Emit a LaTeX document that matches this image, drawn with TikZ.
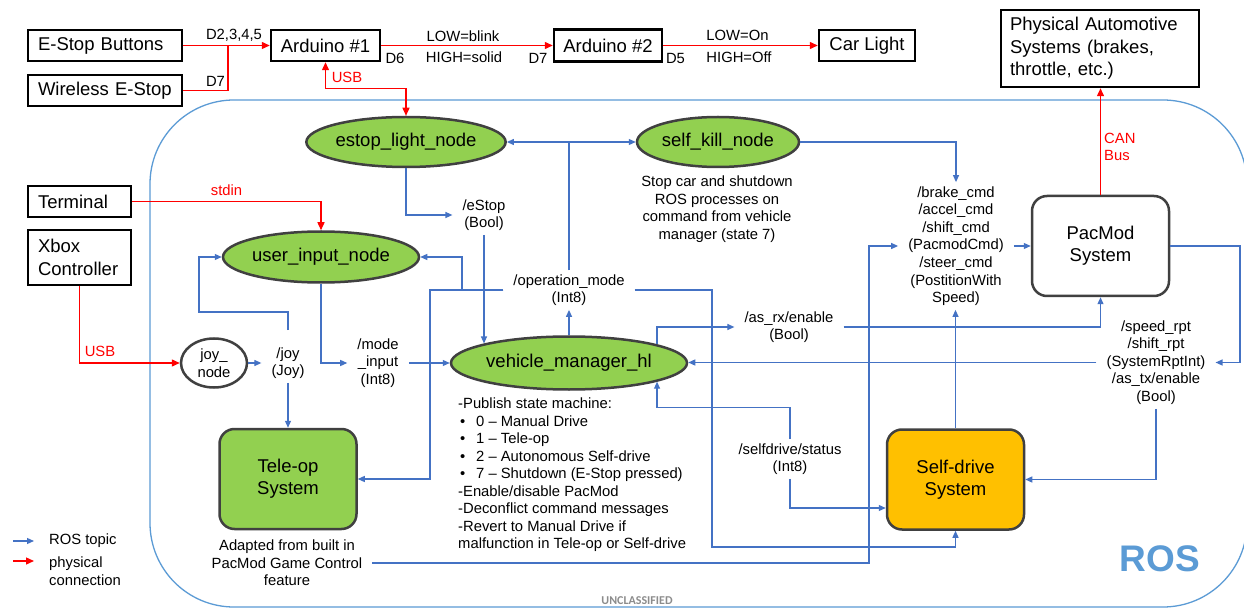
\documentclass[tikz,border=0pt]{standalone}
\usepackage{fontspec}
\setmainfont{Liberation Sans}
\newfontfamily\carlitofont{Carlito}
\usetikzlibrary{shapes.geometric,arrows.meta,calc}
\definecolor{topicblue}{RGB}{68,114,196}
\definecolor{rosblue}{RGB}{91,155,213}
\definecolor{nodegreen}{RGB}{146,208,80}
\definecolor{sdorange}{RGB}{255,192,0}
\definecolor{bordergray}{RGB}{64,64,64}
\definecolor{uncgray}{RGB}{140,140,140}
\newcommand\fsbig{\fontsize{18.5pt}{22.4pt}\selectfont}
\newcommand\fssm{\fontsize{14.8pt}{17.6pt}\selectfont}
\begin{document}
\begin{tikzpicture}[x=1pt,y=-1pt,
  box/.style={draw=black, line width=2.5pt, fill=white, font=\fsbig, inner sep=0pt},
  ellnode/.style={ellipse, draw=bordergray, line width=2.5pt, fill=nodegreen, font=\fsbig, inner sep=0pt},
  sysbox/.style={draw=bordergray, line width=2.5pt, rounded corners=15pt, font=\fsbig, align=center, inner sep=0pt, minimum width=137pt, minimum height=100pt},
  lbl/.style={font=\fssm, align=center, inner xsep=10pt, inner ysep=4pt},
  plain/.style={font=\fssm, inner sep=0pt},
  rlbl/.style={font=\fssm, text=red, inner sep=0pt},
  topic/.style={draw=topicblue, line width=1.2pt, -{Triangle[length=7pt,width=6pt]}},
  physarr/.style={draw=red, line width=1.4pt, -{Triangle[length=8pt,width=7pt]}},
  physline/.style={draw=red, line width=1.4pt},
  physboth/.style={draw=red, line width=1.4pt, {Triangle[length=8pt,width=7pt]}-{Triangle[length=8pt,width=7pt]}}
]
\useasboundingbox (0,0) rectangle (1244,609);
\fill[white] (0,0) rectangle (1244,609);

% ROS region
\draw[rosblue, line width=1.3pt, rounded corners=84pt] (150,100) rectangle (1247,607);
\node[font=\fontsize{37pt}{40pt}\selectfont\bfseries, text=rosblue, inner sep=0pt] (roslbl) at (1160,559) {ROS};
\node[font=\carlitofont\bfseries\fontsize{12pt}{14pt}\selectfont, text=uncgray, inner sep=0pt] (unc) at (637,601) {UNCLASSIFIED};

% outside boxes
\node[box, minimum width=154pt, minimum height=31pt, text width=142pt, align=left, inner xsep=6pt] (ebtn) at (105,45.5) {\hspace*{4pt}E-Stop Buttons};
\node[box, minimum width=154pt, minimum height=31pt, text width=142pt, align=left, inner xsep=6pt] (wless) at (105,90.5) {\hspace*{4pt}Wireless E-Stop};
\node[box, minimum width=109pt, minimum height=31pt] (ard1) at (325.5,45.5) {Arduino \#1};
\node[box, minimum width=108pt, minimum height=32pt] (ard2) at (608,45.5) {Arduino \#2};
\node[box, minimum width=96pt, minimum height=31pt] (car) at (867,45.5) {Car Light};
\node[box, minimum width=198pt, minimum height=77pt, text width=180pt, align=left, inner xsep=9pt] (autosys) at (1100,48.5) {Physical Automotive\\Systems (brakes,\\throttle, etc.)};
\node[box, minimum width=103pt, minimum height=31pt, text width=91pt, align=left, inner xsep=6pt] (term) at (79.5,201.5) {\hspace*{4pt}Terminal};
\node[box, minimum width=103pt, minimum height=55pt, text width=91pt, align=left, inner xsep=6pt] (xbox) at (79.5,257.5) {\hspace*{4pt}Xbox\\\hspace*{4pt}Controller};

% ROS nodes
\node[ellnode, minimum width=196pt, minimum height=50pt] (estop) at (406,142) {estop\_light\_node};
\node[ellnode, minimum width=162pt, minimum height=50pt] (skill) at (718,142) {self\_kill\_node};
\node[ellnode, minimum width=196pt, minimum height=51pt] (uin) at (321,257) {user\_input\_node};
\node[ellnode, minimum width=236pt, minimum height=53pt] (vm) at (569,363) {vehicle\_manager\_hl};
\node[ellipse, draw=bordergray, line width=2.5pt, fill=white, font=\fssm, align=center, inner sep=0pt, minimum width=66pt, minimum height=49pt] (joy) at (214,363) {joy\_\\node};

\node[sysbox, fill=nodegreen] (tele) at (288,479) {Tele-op\\System};
\node[sysbox, fill=sdorange] (sd) at (955.5,479.5) {Self-drive\\System};
\node[sysbox, fill=white] (pac) at (1100.5,246) {PacMod\\System};

% topic labels
\node[lbl] (eStopLbl) at (484,215) {/eStop\\(Bool)};
\node[lbl] (opLbl) at (569,290) {/operation\_mode\\(Int8)};
\node[lbl] (asrx) at (789,327) {/as\_rx/enable\\(Bool)};
\node[lbl] (sdsLbl) at (790,459) {/selfdrive/status\\(Int8)};
\node[lbl] (cmds) at (956,246) {/brake\_cmd\\/accel\_cmd\\/shift\_cmd\\(PacmodCmd)\\/steer\_cmd\\(PostitionWith\\Speed)};
\node[lbl] (rpt) at (1156,362.5) {/speed\_rpt\\/shift\_rpt\\(SystemRptInt)\\/as\_tx/enable\\(Bool)};
\node[lbl] (joyLbl) at (288,363) {/joy\\(Joy)};
\node[lbl] (modeLbl) at (378,363) {/mode\\\_input\\(Int8)};

% descriptions
\node[lbl] (skillDesc) at (717,209) {Stop car and shutdown\\ROS processes on\\command from vehicle\\manager (state 7)};
\node[lbl] (teleDesc) at (287,563) {Adapted from built in\\PacMod Game Control\\feature};
\node[font=\fontsize{14.8pt}{17.5pt}\selectfont, align=left, anchor=west, inner sep=0pt] (vmDesc) at (458,475) {-Publish state machine:\\
\makebox[18pt][l]{\hspace*{2pt}•}0 – Manual Drive\\
\makebox[18pt][l]{\hspace*{2pt}•}1 – Tele-op\\
\makebox[18pt][l]{\hspace*{2pt}•}2 – Autonomous Self-drive\\
\makebox[18pt][l]{\hspace*{2pt}•}7 – Shutdown (E-Stop pressed)\\
-Enable/disable PacMod\\
-Deconflict command messages\\
-Revert to Manual Drive if\\
malfunction in Tele-op or Self-drive};

% physical labels
\node[plain] (lD2) at (234,35) {D2,3,4,5};
\node[plain] (lD7a) at (215.5,81) {D7};
\node[rlbl] (lUSB1) at (347,77) {USB};
\node[plain] (lD6) at (395,58) {D6};
\node[plain] (lLowB) at (463,36) {LOW=blink};
\node[plain] (lHighS) at (464,57) {HIGH=solid};
\node[plain] (lD7b) at (538,58) {D7};
\node[plain] (lD5) at (675.5,58) {D5};
\node[plain] (lLowO) at (737.5,35) {LOW=On};
\node[plain] (lHighO) at (739,57) {HIGH=Off};
\node[rlbl] (lstdin) at (226.5,190) {stdin};
\node[rlbl] (lUSB2) at (100,351) {USB};
\node[rlbl, align=left, anchor=west] (lCAN) at (1104,147) {CAN\\Bus};

% legend
\coordinate (lgA1) at (13,541);
\coordinate (lgA2) at (34,541);
\coordinate (lgB1) at (13,561);
\coordinate (lgB2) at (34,561);
\draw[topic] (lgA1) -- (lgA2);
\draw[physarr] (lgB1) -- (lgB2);
\node[plain, anchor=west] (lgT1) at (49,541) {ROS topic};
\node[plain, anchor=west, align=left] (lgT2) at (49,571) {physical\\connection};

% physical connections
\draw[physarr] (ebtn.east) -- (ard1.west);
\draw[physline] (wless.east) -| (228,45.5);
\draw[physboth] (ard1.south) -- ++(0,26) -| (estop.north);
\draw[physarr] (ard1.east) -- (ard2.west);
\draw[physarr] (ard2.east) -- (car.west);
\draw[physarr] (pac.north) -- (pac.north |- autosys.south);
\draw[physarr] (term.east) -| (uin.north);
\draw[physarr] (xbox.south) |- (joy.west);

% ROS topics
\draw[topic] (estop.south) |- (eStopLbl.west);
\draw[topic] (eStopLbl.south) -- (eStopLbl.south |- vm.167.1);
\draw[topic] (vm.north) -- (opLbl.south);
\draw[topic] (opLbl.north) |- (estop.east);
\draw[topic] (opLbl.north) |- (skill.west);
\draw[topic] (opLbl.west) -| (430,479) -- (tele.east);
\draw[topic] (opLbl.west) -| (462,257) -- (uin.east);
\draw[topic] (opLbl.east) -| (712,547) -| (sd.south);
\draw[topic] (vm.12.9) |- (asrx.west);
\draw[topic] (asrx.east) -| (pac.south);
\draw[topic] (skill.east) -| (cmds.north);
\draw[topic] (teleDesc.east) -| (869,246) -- (cmds.west);
\draw[topic] (sd.north) -- (sd.north |- cmds.south);
\draw[topic] (cmds.east) -- (pac.west);
\draw[topic] (pac.east) -| (1240,362.5) -- (rpt.east);
\draw[topic] (rpt.west) -- (rpt.west -| vm.east);
\draw[topic] (rpt.south) |- (sd.east);
\draw[topic] (sdsLbl.north) |- ($(vm.-12.9)+(0,26)$) -- (vm.-12.9);
\draw[topic] (sdsLbl.south) |- ([yshift=-28.5pt]sd.west);
\draw[topic] (joy.east) -- (joyLbl.west);
\draw[topic] ([yshift=13pt]joyLbl.north) |- (199,312) |- (uin.west);
\draw[topic] (joyLbl.south) -- (joyLbl.south |- tele.north);
\draw[topic] (uin.south) |- (modeLbl.west);
\draw[topic] (modeLbl.east) -- (modeLbl.east -| vm.west);
\end{tikzpicture}
\end{document}
